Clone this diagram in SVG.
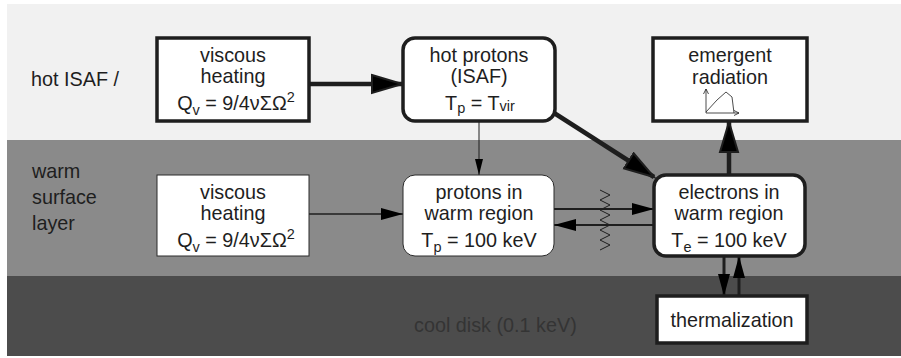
<svg xmlns="http://www.w3.org/2000/svg" width="901" height="358" viewBox="0 0 901 358">
<style>
text{font-family:"Liberation Sans",Arial,sans-serif;font-size:19.8px;fill:#1e1e1e}
.c{text-anchor:middle}
.thick{fill:#fff;stroke:#1e1e1e;stroke-width:3.5}
.thin{fill:#fff;stroke:#2a2a2a;stroke-width:1}
.ln{fill:none;stroke:#1e1e1e}
.sub{font-size:14.5px}
</style>
<defs>
<marker id="big" markerUnits="userSpaceOnUse" markerWidth="34" markerHeight="22" refX="31" refY="10" orient="auto" viewBox="0 0 34 20">
<path d="M1,1 L31,10 L1,19 Z" fill="#000" stroke="#1e1e1e" stroke-width="2" stroke-linejoin="miter"/>
</marker>
<marker id="mid" markerUnits="userSpaceOnUse" markerWidth="24" markerHeight="14" refX="22" refY="7" orient="auto" viewBox="0 0 24 14">
<path d="M0,1 L22,7 L0,13 Z" fill="#000"/>
</marker>
<marker id="sm" markerUnits="userSpaceOnUse" markerWidth="16" markerHeight="10" refX="16" refY="5" orient="auto" viewBox="0 0 16 10">
<path d="M0,1 L16,5 L0,9 Z" fill="#000"/>
</marker>
<marker id="tiny" markerUnits="userSpaceOnUse" markerWidth="6" markerHeight="6" refX="5" refY="3" orient="auto" viewBox="0 0 6 6">
<path d="M0,0.5 L5,3 L0,5.5" fill="none" stroke="#1e1e1e" stroke-width="0.8"/>
</marker>
</defs>
<g id="background">
<rect x="7" y="4" width="894" height="136" fill="#f1f1f1"/>
<rect x="7" y="140" width="894" height="136" fill="#8a8a8a"/>
<rect x="7" y="276" width="894" height="80" fill="#4c4c4c"/>
<text x="31" y="86">hot ISAF /</text>
<text x="32" y="178">warm</text>
<text x="32" y="204">surface</text>
<text x="32" y="230">layer</text>
<text x="414" y="332" style="fill:#343434">cool disk (0.1 keV)</text>
</g>
<g id="connectors">
<line class="ln" x1="309" y1="84" x2="402" y2="84" stroke-width="4.5" marker-end="url(#big)"/>
<line class="ln" x1="551" y1="111" x2="654" y2="177" stroke-width="4.5" marker-end="url(#big)"/>
<line class="ln" x1="729" y1="175" x2="729" y2="122" stroke-width="4.5" marker-end="url(#big)"/>
<line class="ln" x1="479" y1="121" x2="479" y2="175" stroke-width="1" marker-end="url(#sm)"/>
<line class="ln" x1="309" y1="214" x2="403" y2="214" stroke-width="1.3" marker-end="url(#mid)"/>
<line class="ln" x1="554" y1="209" x2="654" y2="209" stroke-width="2" marker-end="url(#mid)"/>
<line class="ln" x1="654" y1="225" x2="554" y2="225" stroke-width="2" marker-end="url(#mid)"/>
<polyline class="ln" stroke-width="1" points="600,190 610,195 600,200 610,205 600,210 610,215 600,220 610,225 600,230 610,235 600,240 610,245 600,250"/>
<line class="ln" x1="724" y1="256" x2="724" y2="296" stroke-width="3" marker-end="url(#mid)"/>
<line class="ln" x1="739" y1="296" x2="739" y2="256" stroke-width="3" marker-end="url(#mid)"/>
</g>
<g id="viscous-hot">
<rect class="thick" x="157" y="38" width="152" height="83"/>
<text class="c" x="233" y="62">viscous</text>
<text class="c" x="233" y="83">heating</text>
<text class="c" x="236" y="110">Q<tspan class="sub" dy="5">v</tspan><tspan dy="-5"> = 9/4νΣΩ</tspan><tspan class="sub" dy="-8">2</tspan></text>
</g>
<g id="hot-protons">
<rect class="thick" x="403" y="38" width="152" height="83" rx="12"/>
<text class="c" x="479" y="62">hot protons</text>
<text class="c" x="479" y="83">(ISAF)</text>
<text class="c" x="480" y="110">T<tspan class="sub" dy="3">p</tspan><tspan dy="-3"> = T</tspan><tspan class="sub" dy="1">vir</tspan></text>
</g>
<g id="emergent">
<rect class="thick" x="653" y="38" width="154" height="83"/>
<text class="c" x="730" y="62">emergent</text>
<text class="c" x="730" y="84">radiation</text>
<line class="ln" x1="706" y1="113" x2="706" y2="89" stroke-width="0.8" marker-end="url(#tiny)"/>
<line class="ln" x1="706" y1="113" x2="739" y2="113" stroke-width="0.8" marker-end="url(#tiny)"/>
<polyline class="ln" stroke-width="0.8" points="706,112 717,100 726,92 732,97 734,113"/>
</g>
<g id="viscous-warm">
<rect class="thin" x="157" y="175" width="152" height="81"/>
<text class="c" x="233" y="199">viscous</text>
<text class="c" x="233" y="220">heating</text>
<text class="c" x="236" y="247">Q<tspan class="sub" dy="5">v</tspan><tspan dy="-5"> = 9/4νΣΩ</tspan><tspan class="sub" dy="-8">2</tspan></text>
</g>
<g id="protons-warm">
<rect class="thin" x="403" y="175" width="151" height="81" rx="12"/>
<text class="c" x="479" y="199">protons in</text>
<text class="c" x="479" y="220">warm region</text>
<text class="c" x="479" y="247">T<tspan class="sub" dy="5">p</tspan><tspan dy="-5"> = 100 keV</tspan></text>
</g>
<g id="electrons-warm">
<rect class="thick" x="654" y="175" width="151" height="81" rx="12"/>
<text class="c" x="729" y="199">electrons in</text>
<text class="c" x="729" y="220">warm region</text>
<text class="c" x="729" y="247">T<tspan class="sub" dy="5">e</tspan><tspan dy="-5"> = 100 keV</tspan></text>
</g>
<g id="thermalization">
<rect class="thick" x="657" y="296" width="150" height="47"/>
<text class="c" x="732" y="327">thermalization</text>
</g>
</svg>
